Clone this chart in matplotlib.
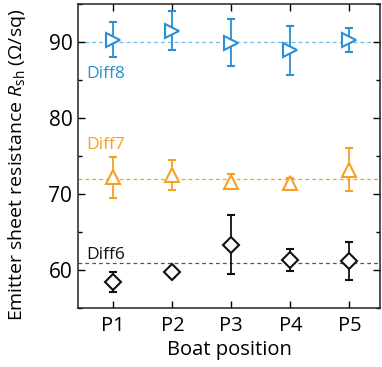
import numpy as np
import matplotlib
matplotlib.use("Agg")
import matplotlib.pyplot as plt
from matplotlib.ticker import MultipleLocator

plt.rcParams['font.family'] = ['Open Sans', 'DejaVu Sans']
plt.rcParams['mathtext.fontset'] = 'custom'
plt.rcParams['mathtext.rm'] = 'Open Sans'
plt.rcParams['mathtext.it'] = 'Open Sans:italic'

positions = ['P1', 'P2', 'P3', 'P4', 'P5']

diff8_mean = [90.3, 91.5, 89.9, 88.9, 90.3]
diff8_err = [2.3, 2.6, 3.1, 3.2, 1.6]
diff8_target = 90.0

diff7_mean = [72.2, 72.5, 71.6, 71.5, 73.2]
diff7_err = [2.7, 2.0, 1.0, 0.6, 2.8]
diff7_target = 72.0

diff6_mean = [58.4, 59.7, 63.3, 61.3, 61.2]
diff6_err = [1.3, 0.6, 3.9, 1.5, 2.5]
diff6_target = 60.9

blue = '#2b8fd3'
blue_line = '#6cbcec'
orange = '#f7a021'
black = '#111111'

x = np.arange(1, len(positions) + 1)

fig = plt.figure(figsize=(3.82, 3.67), dpi=100)
ax = fig.add_axes([0.204, 0.161, 0.791, 0.828])

# (means, errors, target line, marker, marker colour, line colour, label, label baseline)
series = [
    (diff8_mean, diff8_err, diff8_target, '>', blue, blue_line, 'Diff8', 85.3),
    (diff7_mean, diff7_err, diff7_target, '^', orange, orange, 'Diff7', 75.9),
    (diff6_mean, diff6_err, diff6_target, 'D', black, '#555555', 'Diff6', 61.4),
]

for mean, err, target, mk, col, lcol, name, ty in series:
    ax.axhline(target, color=lcol, ls=(0, (3, 2.5)), lw=0.9, zorder=1)
    ms = 8.3 if mk == 'D' else 10
    ax.errorbar(x, mean, yerr=err, fmt=mk, mfc='white', mec=col, ecolor=col,
                ms=ms, mew=1.5, elinewidth=1.3, capsize=2.8, capthick=1.3, zorder=3)
    ax.text(0.535, ty, name, color=col, fontsize=12.5, ha='left', va='baseline')

ax.set_xlim(0.4, 5.52)
ax.set_ylim(55, 95)
ax.set_xticks(x)
ax.set_xticklabels(positions)
ax.yaxis.set_major_locator(MultipleLocator(10))
ax.yaxis.set_minor_locator(MultipleLocator(5))
ax.tick_params(which='both', direction='in', top=True, right=True, width=1)
ax.tick_params(which='major', length=5)
ax.tick_params(which='minor', length=3)
ax.tick_params(axis='y', labelsize=15, pad=4)
ax.tick_params(axis='x', labelsize=14.5, pad=6)
for s in ax.spines.values():
    s.set_linewidth(1.1)
    s.set_color('#222222')

ax.set_xlabel('Boat position', fontsize=14.5, labelpad=3)
ax.set_ylabel(r'Emitter sheet resistance $R_{\mathrm{sh}}$ ($\Omega$/sq)', fontsize=14)
ax.yaxis.set_label_coords(-0.165, 0.47)

fig.savefig('out.png', dpi=100)
